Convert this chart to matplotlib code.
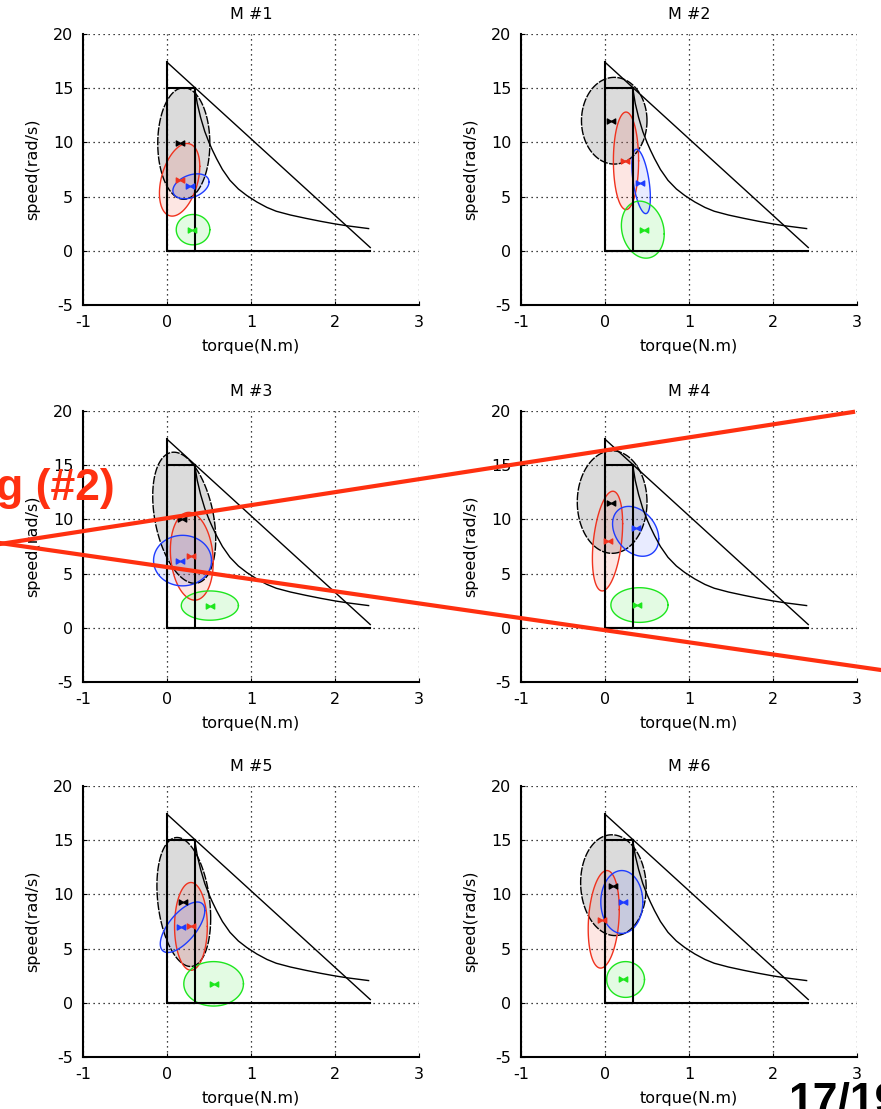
import numpy as np
import matplotlib
matplotlib.use("Agg")
import matplotlib.pyplot as plt
from matplotlib.lines import Line2D
from matplotlib.path import Path

# operating envelope (same on every panel)
tri_torque = [0.0, 2.42]
tri_speed = [17.4, 0.3]
rect_torque = [0.0, 0.0, 0.33, 0.33]
rect_speed = [17.4, 0.0, 0.0, 15.0]
base_torque = [0.0, 2.42]
base_speed = [0.0, 0.0]
top_torque = [0.0, 0.33]
top_speed = [15.0, 15.0]
curve_torque = [0.33, 0.36, 0.40, 0.45, 0.50, 0.54, 0.59, 0.66, 0.75, 0.85, 0.95, 1.07,
                1.19, 1.30, 1.47, 1.65, 1.83, 2.00, 2.15, 2.40]
curve_speed = [15.0, 13.6, 12.3, 11.0, 10.0, 9.3, 8.5, 7.5, 6.5, 5.7, 5.1, 4.5,
               4.0, 3.65, 3.3, 3.0, 2.72, 2.48, 2.3, 2.05]

titles = ["M #1", "M #2", "M #3", "M #4", "M #5", "M #6"]
xticks = [-1, 0, 1, 2, 3]
yticks = [-5, 0, 5, 10, 15, 20]

# per panel ellipses: (center torque, center speed, half width, half height, rho)
ell_gray = [(0.20, 9.9, 0.31, 5.15, 0.0), (0.11, 12.0, 0.39, 4.0, 0.0),
            (0.205, 10.15, 0.375, 6.05, -0.33), (0.085, 11.6, 0.415, 4.73, 0.0),
            (0.20, 9.3, 0.32, 5.95, -0.25), (0.10, 10.85, 0.39, 4.65, -0.05)]
ell_red = [(0.15, 6.55, 0.24, 3.35, 0.37), (0.25, 8.3, 0.15, 4.5, 0.0),
           (0.295, 6.6, 0.255, 4.05, -0.14), (0.03, 8.0, 0.18, 4.6, 0.35),
           (0.285, 7.05, 0.195, 4.05, 0.0), (-0.015, 7.7, 0.185, 4.5, 0.2)]
ell_blue = [(0.285, 5.95, 0.215, 1.15, 0.35), (0.43, 6.4, 0.11, 2.97, -0.5),
            (0.185, 6.2, 0.345, 2.33, 0.0), (0.365, 8.9, 0.275, 2.3, -0.3),
            (0.185, 6.97, 0.265, 2.33, 0.66), (0.20, 9.3, 0.25, 2.9, 0.0)]
ell_green = [(0.31, 1.95, 0.20, 1.4, 0.0), (0.45, 1.95, 0.255, 2.63, -0.15),
             (0.51, 2.05, 0.34, 1.35, 0.0), (0.41, 2.1, 0.34, 1.6, 0.0),
             (0.555, 1.75, 0.355, 2.05, 0.0), (0.245, 2.15, 0.225, 1.65, 0.0)]

# mean markers
mk_gray = [(0.16, 9.9), (0.07, 12.0), (0.18, 10.0), (0.07, 11.55), (0.19, 9.3), (0.10, 10.8)]
mk_red = [(0.16, 6.55), (0.24, 8.3), (0.29, 6.6), (0.03, 8.0), (0.29, 7.05), (-0.03, 7.65)]
mk_blue = [(0.27, 6.0), (0.42, 6.3), (0.16, 6.2), (0.37, 9.2), (0.17, 7.0), (0.22, 9.3)]
mk_green = [(0.30, 1.9), (0.46, 1.95), (0.51, 2.0), (0.38, 2.1), (0.56, 1.7), (0.22, 2.15)]

C_RED = "#f0321e"
C_BLUE = "#1e3cff"
C_GREEN = "#1ee61e"
C_ANNOT = "#ff3010"

bowtie = Path([(-1, -0.6), (1, 0.6), (1, -0.6), (-1, 0.6), (-1, -0.6)],
              [Path.MOVETO, Path.LINETO, Path.LINETO, Path.LINETO, Path.CLOSEPOLY])

plt.rcParams['font.family'] = ['DejaVu Sans']
plt.rcParams['axes.unicode_minus'] = False


def draw_ell(ax, e, edge, face, alpha, ls='-'):
    cx, cy, rx, ry, rho = e
    t = np.linspace(0, 2 * np.pi, 120)
    x = cx + rx * np.cos(t)
    y = cy + ry * (rho * np.cos(t) + np.sqrt(1 - rho ** 2) * np.sin(t))
    ax.fill(x, y, color=face, alpha=alpha, lw=0, zorder=2)
    ax.plot(x, y, color=edge, lw=1.0, ls=ls, zorder=3)


fig = plt.figure(figsize=(8.81, 11.09), dpi=100)

lefts = [83 / 881, 521 / 881]
bottoms = [1 - 305 / 1109, 1 - 682 / 1109, 1 - 1057 / 1109]
w = 336 / 881
h = 271 / 1109

for i in range(6):
    r, c = divmod(i, 2)
    ax = fig.add_axes([lefts[c], bottoms[r], w, h])
    ax.set_xlim(-1, 3)
    ax.set_ylim(-5, 20)
    ax.set_xticks(xticks)
    ax.set_yticks(yticks)
    ax.grid(True, color='k', ls=(0, (1, 3)), lw=0.9)
    ax.set_axisbelow(True)
    for s in ['top', 'right']:
        ax.spines[s].set_visible(False)
    for s in ['left', 'bottom']:
        ax.spines[s].set_linewidth(1.5)
    ax.tick_params(direction='in', length=3, labelsize=11.5, pad=7)
    ax.set_title(titles[i], fontsize=11.5, pad=11)
    ax.set_xlabel("torque(N.m)", fontsize=11.5, labelpad=7)
    ax.set_ylabel("speed(rad/s)", fontsize=11.5, labelpad=9)

    draw_ell(ax, ell_gray[i], 'k', '#808080', 0.28, ls=(0, (6, 1)))
    draw_ell(ax, ell_red[i], C_RED, C_RED, 0.12)
    draw_ell(ax, ell_blue[i], C_BLUE, C_BLUE, 0.10)
    draw_ell(ax, ell_green[i], C_GREEN, C_GREEN, 0.12)

    ax.plot(tri_torque, tri_speed, color='k', lw=1.0, zorder=4)
    ax.plot(rect_torque, rect_speed, color='k', lw=1.5, zorder=4)
    ax.plot(base_torque, base_speed, color='k', lw=1.5, zorder=4)
    ax.plot(top_torque, top_speed, color='k', lw=1.5, zorder=4)
    ax.plot(curve_torque, curve_speed, color='k', lw=1.0, zorder=4)

    for mk, col in [(mk_gray, 'k'), (mk_red, C_RED), (mk_blue, C_BLUE), (mk_green, C_GREEN)]:
        ax.plot([mk[i][0]], [mk[i][1]], marker=bowtie, ms=6, color=col, mec=col, lw=0, zorder=5)

# red annotation lines across the page
fig.add_artist(Line2D([0 / 881, 853 / 881], [1 - 544 / 1109, 1 - 412 / 1109],
                      color=C_ANNOT, lw=3.0, zorder=10))
fig.add_artist(Line2D([0 / 881, 881 / 881], [1 - 543 / 1109, 1 - 670 / 1109],
                      color=C_ANNOT, lw=3.0, zorder=10))

fig.text(115 / 881, 1 - 500 / 1109, "g (#2)", color=C_ANNOT, fontsize=32,
         fontweight='bold', family='Liberation Sans', ha='right', va='baseline', zorder=11)
fig.text(788 / 881, 1 - 1114 / 1109, "17/19", color='k', fontsize=32,
         fontweight='bold', family='Liberation Sans', ha='left', va='baseline', zorder=11)

fig.savefig("out.png", dpi=100)
